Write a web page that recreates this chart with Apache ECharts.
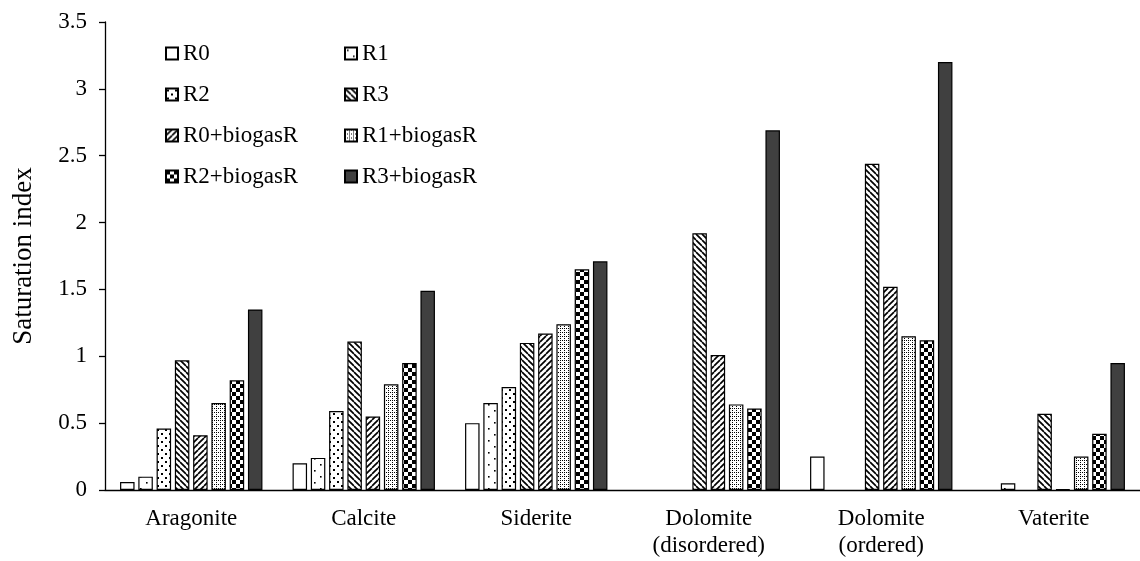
<!DOCTYPE html>
<html>
<head>
<meta charset="utf-8">
<script src="https://cdn.jsdelivr.net/npm/echarts@6/dist/echarts.min.js"></script>
<style>
html,body{margin:0;padding:0;background:#fff;}
#chart{width:1140px;height:561px;}
</style>
</head>
<body>
<div id="chart"></div>
<script>
const categories = ['Aragonite', 'Calcite', 'Siderite', 'Dolomite\n(disordered)', 'Dolomite\n(ordered)', 'Vaterite'];
const seriesNames = ['R0', 'R1', 'R2', 'R3', 'R0+biogasR', 'R1+biogasR', 'R2+biogasR', 'R3+biogasR'];
const R0 = [0.06, 0.20, 0.50, null, 0.25, null];
const R1 = [0.10, 0.24, 0.65, null, null, 0.05];
const R2 = [0.46, 0.59, 0.77, null, null, null];
const R3 = [0.97, 1.11, 1.10, 1.92, 2.44, 0.57];
const R0b = [0.41, 0.55, 1.17, 1.01, 1.52, 0.005];
const R1b = [0.65, 0.79, 1.24, 0.64, 1.15, 0.25];
const R2b = [0.82, 0.95, 1.65, 0.61, 1.12, 0.42];
const R3b = [1.35, 1.49, 1.71, 2.69, 3.20, 0.95];
const seriesValues = [R0, R1, R2, R3, R0b, R1b, R2b, R3b];
const yTicks = { min: 0, max: 3.5, interval: 0.5 };

function tile(w, h, draw) {
  const c = document.createElement('canvas');
  c.width = w; c.height = h;
  const ctx = c.getContext('2d');
  ctx.fillStyle = '#fff';
  ctx.fillRect(0, 0, w, h);
  ctx.fillStyle = '#000';
  ctx.strokeStyle = '#000';
  draw(ctx, w, h);
  return { image: c, repeat: 'repeat' };
}
const fills = [
  '#ffffff',
  tile(12, 12, (ctx) => { ctx.fillRect(2, 2, 1.6, 1.6); ctx.fillRect(8, 8, 1.6, 1.6); }),
  tile(8, 8, (ctx) => { ctx.fillRect(1, 1, 2, 2); ctx.fillRect(5, 5, 2, 2); }),
  tile(6, 6, (ctx, s) => {
    ctx.lineWidth = 1.7;
    for (let k = -s; k <= s; k += s) { ctx.beginPath(); ctx.moveTo(k, 0); ctx.lineTo(k + s, s); ctx.stroke(); }
  }),
  tile(6, 6, (ctx, s) => {
    ctx.lineWidth = 1.7;
    for (let k = -s; k <= s; k += s) { ctx.beginPath(); ctx.moveTo(k, s); ctx.lineTo(k + s, 0); ctx.stroke(); }
  }),
  tile(4, 4, (ctx) => {
    ctx.fillRect(0, 0, 1, 1); ctx.fillRect(2, 0, 1, 1); ctx.fillRect(0, 2, 1, 1);
  }),
  tile(8, 8, (ctx) => { ctx.fillRect(0, 0, 4, 4); ctx.fillRect(4, 4, 4, 4); }),
  '#404040'
];

const FONT = '"Liberation Serif", "Times New Roman", serif';
const chart = echarts.init(document.getElementById('chart'), null, { renderer: 'canvas' });

const series = seriesNames.map((name, i) => ({
  name: name,
  type: 'bar',
  data: seriesValues[i],
  barWidth: 14.5,
  barGap: '26%',
  itemStyle: { color: fills[i], borderColor: '#000', borderWidth: 1.2 },
  emphasis: { disabled: true },
  animation: false
}));

const legendCommon = {
  orient: 'vertical',
  top: 42,
  itemWidth: 12,
  itemHeight: 12,
  itemGap: 18,
  icon: 'rect',
  selectedMode: false,
  padding: 0,
  textStyle: { fontFamily: FONT, fontSize: 23, lineHeight: 23, color: '#000' }
};

chart.setOption({
  animation: false,
  backgroundColor: '#fff',
  textStyle: { fontFamily: FONT },
  grid: { left: 105, right: -2, top: 22, bottom: 71, containLabel: false },
  legend: [
    Object.assign({}, legendCommon, { left: 165, data: ['R0', 'R2', 'R0+biogasR', 'R2+biogasR'] }),
    Object.assign({}, legendCommon, { left: 344, data: ['R1', 'R3', 'R1+biogasR', 'R3+biogasR'] })
  ],
  xAxis: {
    type: 'category',
    data: categories,
    axisLine: { lineStyle: { color: '#000', width: 1.3 } },
    axisTick: { show: false },
    axisLabel: { fontFamily: FONT, fontSize: 23, color: '#000', margin: 15, lineHeight: 27, interval: 0 }
  },
  yAxis: {
    type: 'value',
    min: yTicks.min,
    max: yTicks.max,
    interval: yTicks.interval,
    name: 'Saturation index',
    nameLocation: 'middle',
    nameGap: 68,
    nameTextStyle: { fontFamily: FONT, fontSize: 27, color: '#000' },
    axisLine: { show: true, lineStyle: { color: '#000', width: 1.3 } },
    axisTick: { show: true, inside: false, length: 6, lineStyle: { color: '#000', width: 1.3 } },
    axisLabel: { fontFamily: FONT, fontSize: 23, color: '#000', margin: 18 },
    splitLine: { show: false }
  },
  series: series
});
</script>
</body>
</html>
